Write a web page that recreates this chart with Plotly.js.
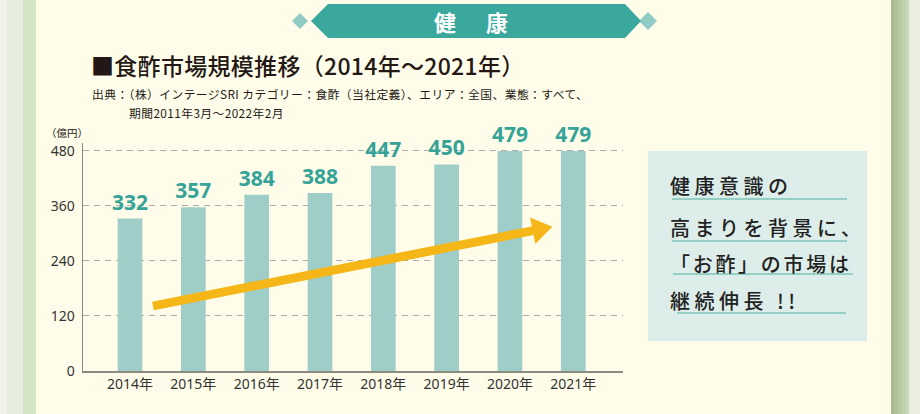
<!DOCTYPE html>
<html>
<head>
<meta charset="utf-8">
<script src="https://cdn.plot.ly/plotly-3.0.1.min.js"></script>
<style>
html,body{margin:0;padding:0;background:#fffde9;}
#chart{width:920px;height:414px;}
</style>
</head>
<body>
<div id="chart"></div>
<script>
// ---- data ----
const years = ["2014年","2015年","2016年","2017年","2018年","2019年","2020年","2021年"];
const marketSize = [332, 357, 384, 388, 447, 450, 479, 479];
const yTickVals = [0, 120, 240, 360, 480];
const yUnit = "（億円）";
const bannerText = "健　康";
const chartTitle = "■食酢市場規模推移（2014年～2021年）";
const sourceLine1 = "出典：（株）インテージSRI カテゴリー：食酢（当社定義）、エリア：全国、業態：すべて、";
const sourceLine2 = "期間2011年3月～2022年2月";
const boxLines = ["健康意識の", "高まりを背景に、", "「お酢」の市場は", "継続伸長 !!"];

// ---- layout geometry (pixels) ----
const W = 920, H = 414;
const L = 83, R = 623, T = 143, B = 371;
const px = x => (x - L) / (R - L);
const py = y => (B - y) / (B - T);
const P = (x, y) => px(x).toFixed(5) + ',' + py(y).toFixed(5);

const cream = '#fffde9';
const shapes = [];
function rect(x0, y0, x1, y1, fill, layer) {
  shapes.push({type:'rect', xref:'paper', yref:'paper', x0:px(x0), x1:px(x1), y0:py(y1), y1:py(y0),
    fillcolor:fill, line:{width:0}, layer: layer || 'below'});
}
function poly(pts, fill, layer) {
  let d = 'M' + pts.map(p => P(p[0], p[1])).join(' L') + ' Z';
  shapes.push({type:'path', xref:'paper', yref:'paper', path:d, fillcolor:fill, line:{width:0}, layer: layer || 'below'});
}
function hline(x0, x1, y, color, w) {
  shapes.push({type:'line', xref:'paper', yref:'paper', x0:px(x0), x1:px(x1), y0:py(y), y1:py(y),
    line:{color:color, width:w}, layer:'below'});
}

// page edges
rect(0, 0, 7, H, '#f0f4ea');
rect(7, 0, 23, H, '#e7eedf');
rect(23, 0, 36, H, '#d2e6c6');
const grad = ['#a7b98e','#afc196','#b6c89e','#bccea6','#c2d4ad','#c8d9b4'];
grad.forEach((c, i) => rect(891 + i * 3, 0, 894 + i * 3, H, c));
rect(909, 0, W, H, '#e9eee1');

// banner
poly([[300,13],[308,21],[300,29],[292,21]], '#90ccc4');
poly([[648,12],[657,21],[648,30],[639,21]], '#90ccc4');
poly([[311,21],[328,4],[625,4],[641,21],[625,38],[328,38]], '#3aa89c');

// right box
rect(648, 151, 867, 341, '#ddeeea');
hline(672, 847, 199, '#7cc3b9', 1.5);
hline(672, 847, 241, '#7cc3b9', 1.5);
hline(673, 853, 274, '#7cc3b9', 1.5);
hline(677, 846, 313, '#7cc3b9', 1.5);

// arrow
(function(){
  const S = [153, 306], Tp = [552.3, 226.8];
  const dx = Tp[0]-S[0], dy = Tp[1]-S[1], len = Math.hypot(dx, dy);
  const u = [dx/len, dy/len], n = [-u[1], u[0]];
  const bw = 4.4, hl = 20, hw = 13.5;
  const Bc = [Tp[0]-hl*u[0], Tp[1]-hl*u[1]];
  const pts = [
    [S[0]-bw*n[0], S[1]-bw*n[1]],
    [Bc[0]-bw*n[0], Bc[1]-bw*n[1]],
    [Bc[0]-hw*n[0], Bc[1]-hw*n[1]],
    Tp,
    [Bc[0]+hw*n[0], Bc[1]+hw*n[1]],
    [Bc[0]+bw*n[0], Bc[1]+bw*n[1]],
    [S[0]+bw*n[0], S[1]+bw*n[1]]
  ];
  poly(pts, '#f5b617', 'above');
})();

const jp = '"Noto Sans CJK JP", "Noto Sans", sans-serif';
const mix = '"Noto Sans", "Noto Sans CJK JP", sans-serif';
function ann(text, x, y, size, color, opts) {
  return Object.assign({text:text, xref:'paper', yref:'paper', x:px(x), y:py(y), showarrow:false,
    xanchor:'left', yanchor:'middle', align:'left', font:{family:jp, size:size, color:color}}, opts || {});
}
const annotations = [
  ann(bannerText, 473, 21.5, 22, '#ffffff', {xanchor:'center', align:'center', font:{family:jp, size:22, color:'#ffffff', weight:700}}),
  ann(chartTitle, 89, 65, 23, '#231815', {font:{family:jp, size:23, color:'#231815', weight:500}}),
  ann(sourceLine1, 90, 93.5, 11.8, '#231815'),
  ann(sourceLine2, 127, 112.5, 11.8, '#231815'),
  ann(yUnit, 44, 132, 10.5, '#231815'),
];
const boxY = [185, 227, 263, 300];
boxLines.forEach((t, i) => annotations.push(
  ann(t, 668, boxY[i], 20, '#222222', {font:{family:jp, size:20, color:'#222222', weight:500}})));

const trace = {
  type:'bar', x:years, y:marketSize,
  marker:{color:'#9fcdc7'}, width:0.39,
  text:marketSize.map(String), textposition:'outside', cliponaxis:false, constraintext:'none',
  textfont:{family:mix, size:21, color:'#35a397', weight:700},
  hoverinfo:'skip'
};

const layout = {
  width:W, height:H,
  margin:{l:L, r:W-R, t:T, b:H-B, pad:0},
  paper_bgcolor:cream, plot_bgcolor:'rgba(0,0,0,0)',
  showlegend:false, bargap:0.6, uniformtext:{mode:false},
  xaxis:{type:'category', range:[-0.742, 7.785], showline:true, linecolor:'#8b8b80', linewidth:1.5,
    ticks:'', showgrid:false, zeroline:false, tickfont:{family:mix, size:14, color:'#333333'}, fixedrange:true},
  yaxis:{range:[0, 496.7], tickvals:yTickVals, ticktext:yTickVals.map(String), showline:true, linecolor:'#8b8b80', linewidth:1.5,
    ticks:'', showgrid:true, gridcolor:'#acacac', gridwidth:1, griddash:'6px,5px', zeroline:false,
    ticklabelstandoff:4, tickfont:{family:mix, size:14, color:'#333333'}, fixedrange:true},
  shapes:shapes, annotations:annotations
};

const boxSpacing = ['4.5px', '4.5px', '2.7px', '4.5px'];
Plotly.newPlot('chart', [trace], layout, {staticPlot:true}).then(() => {
  document.querySelectorAll('.annotation-text').forEach(el => {
    const t = el.textContent;
    const bi = boxLines.indexOf(t);
    if (bi >= 0) el.style.letterSpacing = boxSpacing[bi];
    if (t === chartTitle) el.style.letterSpacing = '0.3px';
    if (t === sourceLine1 || t === sourceLine2) el.style.letterSpacing = '0.4px';
    if (t === bannerText) el.style.letterSpacing = '4px';
  });
});
</script>
</body>
</html>
